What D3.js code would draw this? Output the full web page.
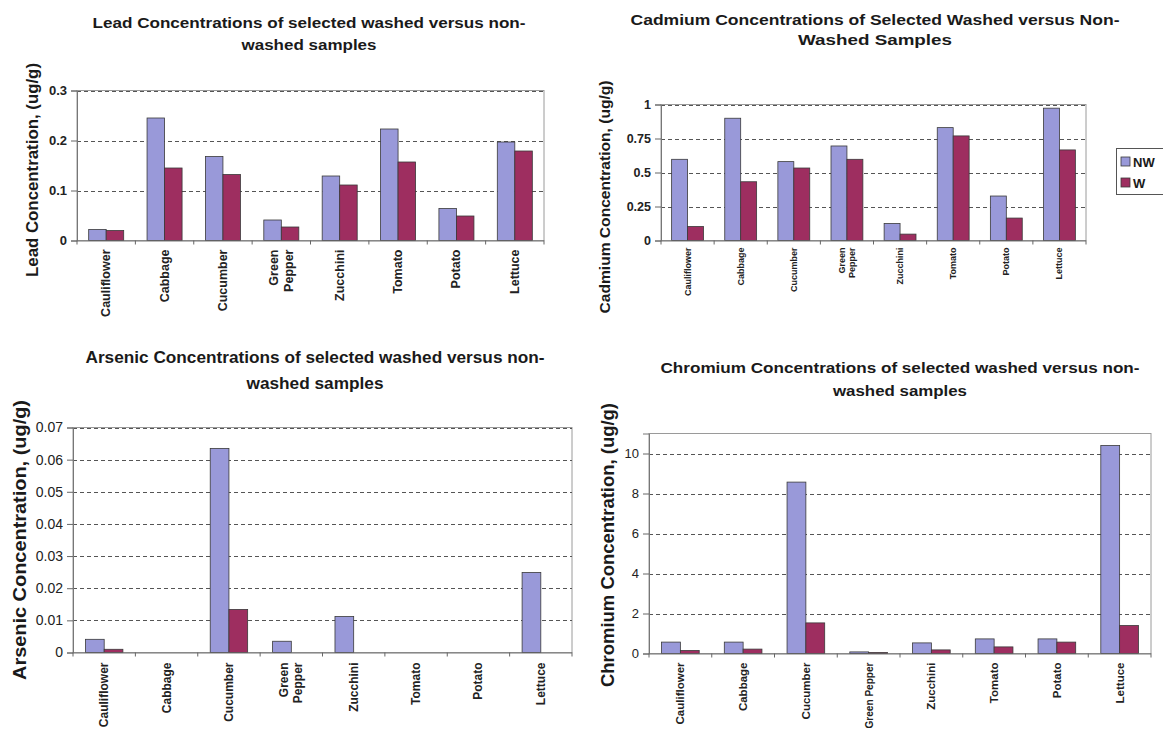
<!DOCTYPE html>
<html>
<head>
<meta charset="utf-8">
<script src="https://cdn.jsdelivr.net/npm/d3@7"></script>
<style>
  html, body { margin: 0; padding: 0; background: #fff; }
  svg { display: block; font-family: "Liberation Sans", Arial, sans-serif; }
</style>
</head>
<body>
<svg id="chart" width="1163" height="731"></svg>
<script>
// ---------- data ----------
const categories = ["Cauliflower", "Cabbage", "Cucumber", "Green Pepper", "Zucchini", "Tomato", "Potato", "Lettuce"];
const seriesNames = ["NW", "W"];

const leadNW = [0.022, 0.245, 0.168, 0.041, 0.129, 0.223, 0.064, 0.197];
const leadW  = [0.020, 0.145, 0.132, 0.027, 0.111, 0.157, 0.049, 0.179];
const leadTicks = [0, 0.1, 0.2, 0.3];
const leadTickLabels = ["0", "0.1", "0.2", "0.3"];

const cadmiumNW = [0.597, 0.899, 0.580, 0.695, 0.125, 0.830, 0.327, 0.973];
const cadmiumW  = [0.103, 0.432, 0.533, 0.597, 0.047, 0.769, 0.165, 0.666];
const cadmiumTicks = [0, 0.25, 0.5, 0.75, 1];
const cadmiumTickLabels = ["0", "0.25", "0.5", "0.75", "1"];

const arsenicNW = [0.0041, 0, 0.0635, 0.0035, 0.0112, 0, 0, 0.0249];
const arsenicW  = [0.0010, 0, 0.0134, 0, 0, 0, 0, 0];
const arsenicTicks = [0, 0.01, 0.02, 0.03, 0.04, 0.05, 0.06, 0.07];
const arsenicTickLabels = ["0", "0.01", "0.02", "0.03", "0.04", "0.05", "0.06", "0.07"];

const chromiumNW = [0.57, 0.57, 8.57, 0.08, 0.53, 0.73, 0.73, 10.4];
const chromiumW  = [0.15, 0.22, 1.53, 0.05, 0.18, 0.33, 0.57, 1.40];
const chromiumTicks = [0, 2, 4, 6, 8, 10];
const chromiumTickLabels = ["0", "2", "4", "6", "8", "10"];

// ---------- styles ----------
const colors = { NW: "#9999d9", W: "#9e2e60" };
const svg = d3.select("#chart");

function drawPanel(o) {
  const g = svg.append("g");
  const x = d3.scaleBand().domain(categories).range([o.x0, o.x1]).paddingInner(0).paddingOuter(0);
  const xs = d3.scaleBand().domain(seriesNames).range([0, x.bandwidth()]).paddingInner(0).paddingOuter(0.6667);
  const y = d3.scaleLinear().domain([0, o.yMax]).range([o.y1, o.y0]);

  // plot border
  g.append("rect").attr("x", o.x0).attr("y", o.y0)
    .attr("width", o.x1 - o.x0).attr("height", o.y1 - o.y0)
    .attr("fill", "none").attr("stroke", "#9a9a9a").attr("stroke-width", 1);

  // gridlines
  g.selectAll("line.grid").data(o.ticks.filter(t => t > 0)).enter().append("line")
    .attr("x1", o.x0).attr("x2", o.x1)
    .attr("y1", d => Math.round(y(d)) + 0.5).attr("y2", d => Math.round(y(d)) + 0.5)
    .attr("stroke", "#555").attr("stroke-width", 1).attr("stroke-dasharray", "4,3");

  // bars
  const rows = categories.map((c, i) => ({ c, NW: o.nw[i], W: o.w[i] }));
  const grp = g.selectAll("g.cat").data(rows).enter().append("g")
    .attr("transform", d => `translate(${x(d.c)},0)`);
  grp.selectAll("rect").data(d => seriesNames.map(s => ({ s, v: d[s] })).filter(e => e.v > 0))
    .enter().append("rect")
    .attr("x", d => xs(d.s)).attr("width", xs.bandwidth())
    .attr("y", d => y(d.v)).attr("height", d => y(0) - y(d.v))
    .attr("fill", d => colors[d.s]).attr("stroke", "#3a3a3a").attr("stroke-width", 0.8);

  // y axis
  const ya = d3.axisLeft(y).tickValues(o.ticks).tickFormat((d, i) => o.tickLabels[i]).tickSize(6).tickPadding(4);
  const yg = g.append("g").attr("transform", `translate(${o.x0},0)`).call(ya);
  yg.select(".domain").attr("stroke", "#777");
  yg.selectAll(".tick line").attr("stroke", "#666");
  yg.selectAll(".tick text").attr("font-size", o.tickSize).attr("font-weight", o.tickWeight)
    .attr("fill", "#222").attr("font-family", "Liberation Sans, Arial, sans-serif");

  // x axis line and ticks at band boundaries
  g.append("line").attr("x1", o.x0).attr("x2", o.x1).attr("y1", o.y1 + 0.5).attr("y2", o.y1 + 0.5)
    .attr("stroke", "#777").attr("stroke-width", 1.2);
  const bounds = categories.map(c => x(c)).concat([o.x1]);
  g.selectAll("line.xt").data(bounds).enter().append("line")
    .attr("x1", d => d).attr("x2", d => d).attr("y1", o.y1).attr("y2", o.y1 + 4)
    .attr("stroke", "#666");

  // x labels (rotated)
  categories.forEach(c => {
    const lg = g.append("g")
      .attr("transform", `translate(${x(c) + x.bandwidth() / 2},${o.y1 + o.xLabelGap}) rotate(-90)`);
    const lines = (o.splitGreen && c === "Green Pepper") ? ["Green", "Pepper"] : [c];
    const lh = o.xFont * 1.15;
    lines.forEach((t, i) => {
      const tx = lg.append("text").attr("x", 0).attr("y", (i - (lines.length - 1) / 2) * lh)
        .attr("text-anchor", "end").attr("dominant-baseline", "central")
        .attr("font-size", o.xFont).attr("font-weight", "bold").attr("fill", "#222")
        .text(t);
      if (o.maxLabelLen) {
        const len = tx.node().getComputedTextLength();
        if (len > o.maxLabelLen) tx.attr("textLength", o.maxLabelLen).attr("lengthAdjust", "spacingAndGlyphs");
      }
    });
  });

  // title
  o.title.forEach((t, i) => {
    g.append("text").attr("x", o.titleX).attr("y", o.titleY[i])
      .attr("text-anchor", "middle").attr("dominant-baseline", "central")
      .attr("font-size", o.titleSize).attr("font-weight", "bold").attr("fill", "#1a1a1a")
      .attr("textLength", o.titleLen[i]).attr("lengthAdjust", "spacingAndGlyphs")
      .text(t);
  });

  // y label
  g.append("text")
    .attr("transform", `translate(${o.ylabelX},${o.ylabelY}) rotate(-90)`)
    .attr("text-anchor", "middle").attr("dominant-baseline", "central")
    .attr("font-size", o.ylabelSize).attr("font-weight", "bold").attr("fill", "#1a1a1a")
    .attr("textLength", o.ylabelLen).attr("lengthAdjust", "spacingAndGlyphs")
    .text(o.ylabel);
}

drawPanel({
  x0: 77, x1: 544, y0: 90.5, y1: 240.5, yMax: 0.3,
  ticks: leadTicks, tickLabels: leadTickLabels, nw: leadNW, w: leadW,
  tickSize: 13, tickWeight: "bold", xFont: 12.5, xLabelGap: 9, splitGreen: true,
  title: ["Lead Concentrations of selected washed versus non-", "washed samples"],
  titleX: 309, titleY: [22, 44], titleLen: [433, 135], titleSize: 15.5,
  ylabel: "Lead Concentration, (ug/g)", ylabelX: 32, ylabelY: 170, ylabelLen: 214, ylabelSize: 16
});

drawPanel({
  x0: 661, x1: 1086, y0: 104.5, y1: 240.5, yMax: 1,
  ticks: cadmiumTicks, tickLabels: cadmiumTickLabels, nw: cadmiumNW, w: cadmiumW,
  tickSize: 12.5, tickWeight: "bold", xFont: 9, xLabelGap: 7, splitGreen: true,
  title: ["Cadmium Concentrations of Selected Washed versus Non-", "Washed Samples"],
  titleX: 875, titleY: [19, 39], titleLen: [489, 154], titleSize: 15,
  ylabel: "Cadmium Concentration, (ug/g)", ylabelX: 604, ylabelY: 197, ylabelLen: 233, ylabelSize: 15
});

drawPanel({
  x0: 73, x1: 572, y0: 427.5, y1: 652.5, yMax: 0.07,
  ticks: arsenicTicks, tickLabels: arsenicTickLabels, nw: arsenicNW, w: arsenicW,
  tickSize: 14, tickWeight: "normal", xFont: 12, xLabelGap: 10, splitGreen: true,
  title: ["Arsenic Concentrations of selected washed versus non-", "washed samples"],
  titleX: 315, titleY: [357, 383], titleLen: [459, 137], titleSize: 16,
  ylabel: "Arsenic Concentration, (ug/g)", ylabelX: 19, ylabelY: 540, ylabelLen: 280, ylabelSize: 19
});

drawPanel({
  x0: 649, x1: 1151, y0: 433.5, y1: 653.5, yMax: 11,
  ticks: chromiumTicks, tickLabels: chromiumTickLabels, nw: chromiumNW, w: chromiumW,
  tickSize: 13, tickWeight: "normal", xFont: 11.5, xLabelGap: 9, splitGreen: false, maxLabelLen: 66,
  title: ["Chromium Concentrations of selected washed versus non-", "washed samples"],
  titleX: 900, titleY: [367, 390], titleLen: [479, 134], titleSize: 15.5,
  ylabel: "Chromium Concentration, (ug/g)", ylabelX: 608, ylabelY: 545, ylabelLen: 284, ylabelSize: 18
});

// legend (belongs to Cadmium panel, clipped at right edge like the reference)
const lg = svg.append("g");
lg.append("rect").attr("x", 1116.5).attr("y", 148.5).attr("width", 60).attr("height", 46)
  .attr("fill", "#fff").attr("stroke", "#555").attr("stroke-width", 1);
seriesNames.forEach((s, i) => {
  const cy = 162 + i * 21;
  lg.append("rect").attr("x", 1121).attr("y", cy - 5).attr("width", 9).attr("height", 9)
    .attr("fill", colors[s]).attr("stroke", "#3a3a3a").attr("stroke-width", 0.8);
  lg.append("text").attr("x", 1133).attr("y", cy).attr("dominant-baseline", "central")
    .attr("font-size", 13).attr("font-weight", "bold").attr("fill", "#1a1a1a").text(s);
});
</script>
</body>
</html>
